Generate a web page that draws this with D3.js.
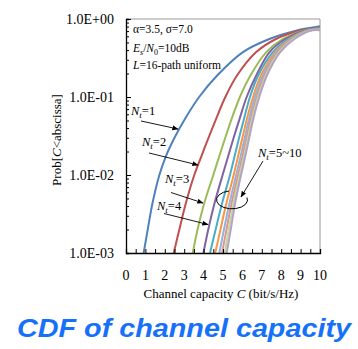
<!DOCTYPE html>
<html><head><meta charset="utf-8">
<script src="https://cdn.jsdelivr.net/npm/d3@7"></script>
<style>body{margin:0;background:#fff}svg{display:block}</style>
</head><body>
<svg id="c" width="358" height="349"></svg>
<script>
// ---- data ----
const series = ["1","2","3","4","5","6","7","8","9","10"];
const probLevels = [0.001,0.002,0.0044,0.01,0.0175,0.0307,0.052,0.1,0.19,0.374,0.554,0.708];
const capNt1  = [0.91,1.12,1.37,1.72,2.06,2.52,3.03,3.77,4.71,6.01,7.39,8.76];
const capNt2  = [2.46,2.75,3.09,3.52,3.89,4.27,4.64,5.12,5.73,6.70,7.73,8.93];
const capNt3  = [3.44,3.69,4.04,4.50,4.81,5.13,5.44,5.87,6.42,7.22,8.08,9.11];
const capNt4  = [3.99,4.24,4.57,4.98,5.27,5.56,5.85,6.22,6.72,7.39,8.21,9.19];
const capNt5  = [4.33,4.62,4.96,5.36,5.60,5.84,6.08,6.39,6.82,7.56,8.35,9.28];
const capNt6  = [4.60,4.87,5.18,5.55,5.78,6.01,6.23,6.55,6.96,7.68,8.45,9.33];
const capNt7  = [4.81,5.05,5.34,5.68,5.91,6.13,6.34,6.65,7.06,7.76,8.52,9.37];
const capNt8  = [4.95,5.18,5.45,5.78,6.01,6.22,6.43,6.74,7.14,7.82,8.58,9.41];
const capNt9  = [5.09,5.30,5.55,5.86,6.09,6.30,6.50,6.81,7.21,7.88,8.63,9.44];
const capNt10 = [5.19,5.40,5.63,5.93,6.15,6.36,6.56,6.87,7.27,7.94,8.68,9.48];
const probAtC10 = [0.806,0.774,0.760,0.750,0.745,0.740,0.735,0.730,0.725,0.720];
const colors = ["#4F81BD","#C0504D","#9BBB59","#8064A2","#4BACC6","#F79646","#95B3D7","#D99694","#C3D69B","#B3A2C7"];
const xTicks = [0,1,2,3,4,5,6,7,8,9,10];
const yTicks = [1e-3,1e-2,1e-1,1];
const yTickLabels = ["1.0E-03","1.0E-02","1.0E-01","1.0E+00"];
const caps = [capNt1,capNt2,capNt3,capNt4,capNt5,capNt6,capNt7,capNt8,capNt9,capNt10];

const svg = d3.select("#c");
const L=126,R=320,T=19,B=253;
const x = d3.scaleLinear().domain([0,10]).range([L,R]);
const y = d3.scaleLog().domain([1e-3,1]).range([B,T]);
const serif = "'Liberation Serif','Times New Roman',serif";

// frame: top/right gray
svg.append("line").attr("x1",L).attr("x2",R).attr("y1",T).attr("y2",T).attr("stroke","#9a9a9a");
svg.append("line").attr("x1",R).attr("x2",R).attr("y1",T).attr("y2",B).attr("stroke","#9a9a9a");

// curves
const line = d3.line().x(d=>x(d[0])).y(d=>y(d[1])).curve(d3.curveCatmullRom.alpha(0.5));
svg.append("clipPath").attr("id","pc").append("rect").attr("x",L).attr("y",T-3).attr("width",R-L).attr("height",B-T+3);
const g = svg.append("g").attr("clip-path","url(#pc)");
series.forEach((s,i)=>{
  const pts = probLevels.map((p,j)=>[caps[i][j],p]);
  pts.push([10,probAtC10[i]]);
  g.append("path").datum(pts).attr("d",line).attr("fill","none")
   .attr("stroke",colors[i]).attr("stroke-width",2);
});

// axes
const xAxis = d3.axisBottom(x).tickValues(d3.range(0,10.01,0.5)).tickSize(-4).tickFormat("");
const ga = svg.append("g").attr("transform",`translate(0,${B})`).call(xAxis);
ga.select(".domain").attr("stroke","#000").attr("stroke-width",1.3);
svg.selectAll(".xl").data(xTicks).enter().append("text").attr("class","xl")
  .attr("x",d=>x(d)).attr("y",280).attr("text-anchor","middle")
  .attr("font-family",serif).attr("font-size",14).text(d=>d);

const minor=[];
for(let e=-3;e<0;e++) for(let k=2;k<=9;k++) minor.push(k*Math.pow(10,e));
const gy = svg.append("g").attr("transform",`translate(${L},0)`);
gy.call(d3.axisLeft(y).tickValues(minor).tickSize(-3).tickFormat(""));
gy.select(".domain").attr("stroke","#000").attr("stroke-width",1.3);
const gy2 = svg.append("g").attr("transform",`translate(${L},0)`);
gy2.call(d3.axisLeft(y).tickValues(yTicks).tickSize(-5).tickFormat(""));
gy2.select(".domain").remove();
svg.selectAll(".yl").data(yTicks).enter().append("text").attr("class","yl")
  .attr("x",114).attr("y",d=>y(d)).attr("dy","0.35em").attr("text-anchor","end")
  .attr("font-family",serif).attr("font-size",14).text((d,i)=>yTickLabels[i]);

// axis titles
const xt = svg.append("text").attr("x",221).attr("y",298).attr("text-anchor","middle")
  .attr("font-family",serif).attr("font-size",13);
xt.append("tspan").text("Channel capacity ");
xt.append("tspan").attr("font-style","italic").text("C");
xt.append("tspan").text(" (bit/s/Hz)");
const yt = svg.append("text").attr("transform","translate(61,140) rotate(-90)").attr("text-anchor","middle")
  .attr("font-family",serif).attr("font-size",13);
yt.append("tspan").text("Prob[");
yt.append("tspan").attr("font-style","italic").text("C");
yt.append("tspan").text("<abscissa]");

// parameters text
svg.append("text").attr("x",133).attr("y",33).attr("font-family",serif).attr("font-size",11.5).text("α=3.5, σ=7.0");
const t2 = svg.append("text").attr("x",133).attr("y",51.5).attr("font-family",serif).attr("font-size",11.5);
t2.append("tspan").attr("font-style","italic").text("E");
t2.append("tspan").attr("font-style","italic").attr("font-size",8).attr("dy",3).text("s");
t2.append("tspan").attr("dy",-3).text("/");
t2.append("tspan").attr("font-style","italic").text("N");
t2.append("tspan").attr("font-size",8).attr("dy",3).text("0");
t2.append("tspan").attr("dy",-3).text("=10dB");
const t3 = svg.append("text").attr("x",133).attr("y",69).attr("font-family",serif).attr("font-size",11.5);
t3.append("tspan").attr("font-style","italic").text("L");
t3.append("tspan").text("=16-path uniform");

// Nt labels
function ntLabel(xp,yp,val){
  const t = svg.append("text").attr("x",xp).attr("y",yp).attr("font-family",serif).attr("font-size",12.5);
  t.append("tspan").attr("font-style","italic").text("N");
  t.append("tspan").attr("font-style","italic").attr("font-size",9).attr("dy",3).text("t");
  t.append("tspan").attr("dy",-3).text("="+val);
}
ntLabel(131,115,"1");
ntLabel(142,146,"2");
ntLabel(165,182.5,"3");
ntLabel(157,210,"4");
ntLabel(258,157,"5~10");

// arrows
svg.append("defs").append("marker").attr("id","ah").attr("viewBox","0 0 10 10").attr("refX",9).attr("refY",5)
  .attr("markerWidth",7).attr("markerHeight",7).attr("orient","auto-start-reverse")
  .append("path").attr("d","M0,1 L10,5 L0,9 Z").attr("fill","#000");
const arrows = [[141,121,178,129],[149,153,198,165],[171,192.5,203,203],[164,213.5,208,224.5],[263,161,241,197]];
arrows.forEach(a=>svg.append("line").attr("x1",a[0]).attr("y1",a[1]).attr("x2",a[2]).attr("y2",a[3])
  .attr("stroke","#000").attr("stroke-width",0.9).attr("marker-end","url(#ah)"));
// loop around Nt=5~10
svg.append("path").attr("d","M229,191 A15.5 9 0 1 0 247,197.5").attr("fill","none").attr("stroke","#000").attr("stroke-width",1);

// title
svg.append("text").attr("x",17).attr("y",337).attr("font-family","'Liberation Sans',Arial,sans-serif")
  .attr("font-size",25).attr("font-weight","bold").attr("font-style","italic").attr("fill","#1670FA")
  .attr("textLength",334).attr("lengthAdjust","spacingAndGlyphs").text("CDF of channel capacity");
</script>
</body></html>
